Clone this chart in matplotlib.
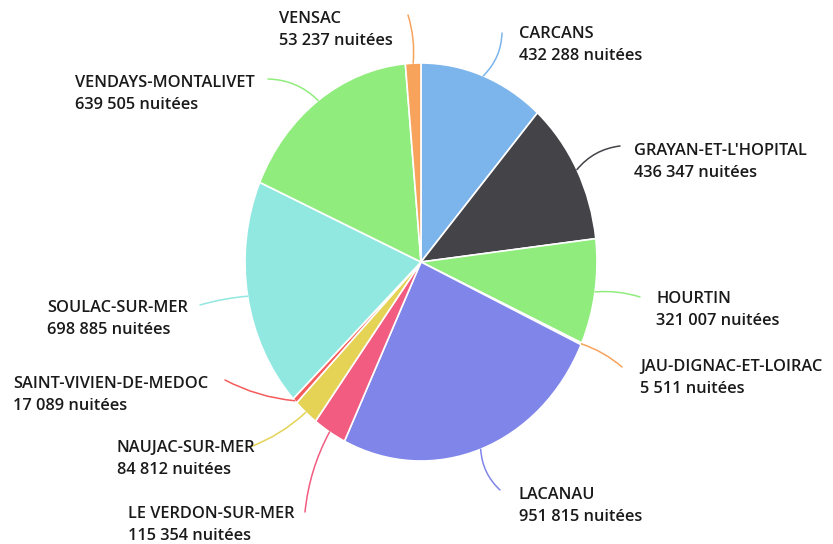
import numpy as np
import matplotlib.pyplot as plt

# Nuitées par commune (Médoc)
communes = ["CARCANS", "GRAYAN-ET-L'HOPITAL", "HOURTIN", "JAU-DIGNAC-ET-LOIRAC",
            "LACANAU", "LE VERDON-SUR-MER", "NAUJAC-SUR-MER", "SAINT-VIVIEN-DE-MEDOC",
            "SOULAC-SUR-MER", "VENDAYS-MONTALIVET", "VENSAC"]
nuitees = [432288, 436347, 321007, 5511, 951815, 115354, 84812, 17089,
           698885, 639505, 53237]
couleurs = ["#7cb5ec", "#434348", "#90ed7d", "#f7a35c", "#8085e9", "#f15c80",
            "#e4d354", "#f45b5b", "#91e8e1", "#90ed7d", "#f7a35c"]

# label block (left x, centre y) and connector start, in image pixels (top-left origin)
label_pos = [(519, 45), (634, 162), (656, 310), (640, 378), (519, 506), (128, 525),
             (117, 459), (13, 395), (47, 319), (75, 94), (279, 30)]
conn_start = [(502, 33), (620, 146), (640, 297), (622, 367), (500, 490), (305, 512),
              (250, 447), (225, 380), (200, 305), (268, 79), (408, 15)]
conn_rad = [-0.2, 0.2, 0.1, 0.1, -0.2, -0.1, 0.1, 0.1, -0.05, -0.2, -0.1]

W, H = 833, 544
fig = plt.figure(figsize=(W / 100, H / 100), dpi=100)

# pie box: 245..597 horizontally, 63..461 vertically (slightly stretched)
x0, x1, y0, y1 = 245, 597, 63, 461
ax = fig.add_axes([x0 / W, 1 - y1 / H, (x1 - x0) / W, (y1 - y0) / H])
wedges, _ = ax.pie(nuitees, colors=couleurs, startangle=90, counterclock=False,
                   radius=1, wedgeprops=dict(edgecolor="white", linewidth=1.2))
ax.set_xlim(-1, 1)
ax.set_ylim(-1, 1)
ax.set_aspect("auto")
ax.axis("off")

def fmt(v):
    return "{:,}".format(v).replace(",", " ")

total = sum(nuitees)
cum = 0
for i, (nom, v) in enumerate(zip(communes, nuitees)):
    mid = (cum + v / 2) / total
    cum += v
    theta = np.deg2rad(90 - mid * 360)
    xy = (np.cos(theta), np.sin(theta))
    sx, sy = conn_start[i]
    ax.annotate("", xy=xy, xycoords="data",
                xytext=(sx, H - sy), textcoords="figure pixels",
                arrowprops=dict(arrowstyle="-", color=couleurs[i], lw=1.1,
                                shrinkA=0, shrinkB=0,
                                connectionstyle="arc3,rad={}".format(conn_rad[i])),
                annotation_clip=False)
    lx, ly = label_pos[i]
    fig.text(lx / W, 1 - ly / H, "{}\n{} nuitées".format(nom, fmt(v)),
             ha="left", va="center", fontsize=11.8, fontweight="semibold",
             family=["Open Sans", "DejaVu Sans"], color="#1a1a1a", linespacing=1.45)

fig.savefig("out.png", dpi=100, facecolor="white")
